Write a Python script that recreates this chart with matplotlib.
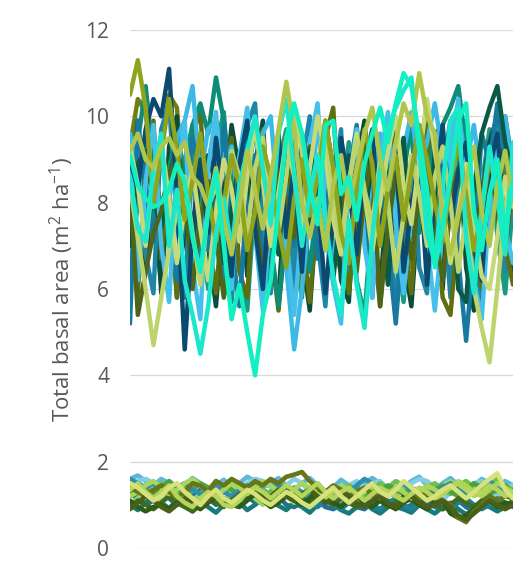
import numpy as np
import matplotlib
matplotlib.use('Agg')
import matplotlib.pyplot as plt

plt.rcParams['font.family'] = ['Open Sans', 'DejaVu Sans']
plt.rcParams['mathtext.fontset'] = 'custom'
plt.rcParams['mathtext.rm'] = 'Open Sans'
plt.rcParams['mathtext.it'] = 'Open Sans'

# ---- data (one value per time step) ----
y_ticks = [0, 2, 4, 6, 8, 10, 12]
y_label = r'Total basal area (m$^{2}$ ha$^{-1}$)'

# upper group of runs
upper_navy = [9.0, 8.3, 9.7, 10.4, 10.0, 11.1, 8.2, 4.6, 7.4, 9.0, 7.3, 9.5, 8.1, 6.3, 8.9, 9.9, 7.4, 6.0, 8.5, 9.6,
              7.2, 8.9, 6.4, 9.2, 8.1, 5.9, 7.6, 9.5, 8.4, 6.8, 8.9, 9.7, 7.1, 8.3, 9.3, 6.4, 7.9, 9.0, 6.1, 8.2,
              9.8, 7.6, 8.7, 9.4, 7.0, 6.2, 8.8, 9.6, 7.4, 8.9]
upper_tealblue = [5.2, 9.9, 8.4, 7.1, 9.3, 8.0, 6.2, 7.7, 9.5, 8.6, 6.9, 8.1, 9.8, 7.0, 5.6, 8.2, 9.1, 6.6, 7.9, 9.4,
                  8.3, 7.0, 9.6, 8.5, 6.7, 7.8, 9.0, 7.4, 8.6, 9.8, 7.6, 6.5, 8.3, 7.0, 5.2, 7.4, 8.6, 9.8, 7.9, 6.6,
                  8.8, 9.9, 6.7, 4.8, 6.9, 9.6, 8.9, 10.3, 9.0, 8.1]
upper_skyblue = [9.6, 8.8, 7.4, 8.9, 9.2, 8.0, 9.5, 9.9, 10.7, 8.6, 9.7, 9.9, 8.7, 9.3, 7.8, 9.0, 8.2, 9.6, 10.0, 7.9,
                 6.5, 4.6, 6.0, 7.8, 9.9, 8.4, 6.6, 7.9, 8.8, 9.7, 7.3, 8.6, 9.6, 8.1, 7.0, 9.2, 10.1, 8.7, 9.4, 10.3,
                 9.1, 7.6, 10.1, 8.9, 9.8, 8.4, 7.2, 9.3, 10.0, 8.6]
upper_aqua = [9.1, 8.4, 8.1, 7.9, 8.0, 8.3, 8.9, 8.5, 7.2, 6.4, 7.8, 8.7, 7.0, 5.3, 6.1, 5.0, 4.0, 5.4, 6.2, 7.9,
              9.5, 10.3, 9.6, 8.4, 7.5, 9.8, 9.9, 8.2, 8.6, 7.6, 8.9, 9.6, 10.2, 9.4, 10.3, 11.0, 10.7, 9.5, 8.3, 6.5,
              7.4, 8.6, 9.9, 10.3, 7.8, 6.9, 8.2, 9.0, 7.3, 8.5]
upper_aqua2 = [8.6, 7.4, 7.1, 8.8, 9.6, 7.0, 8.3, 6.2, 5.4, 4.5, 5.6, 7.3, 8.1, 6.9, 8.4, 9.2, 10.0, 8.8, 7.5, 9.6,
               10.4, 8.7, 7.0, 8.2, 9.1, 7.6, 6.3, 5.4, 7.6, 6.1, 5.1, 7.2, 8.8, 9.7, 10.2, 10.6, 10.9, 9.2, 7.3, 6.6,
               8.4, 9.9, 10.2, 7.2, 5.9, 7.8, 9.3, 8.1, 6.8, 9.4]
upper_darkgreen = [7.0, 8.9, 9.2, 8.1, 7.4, 8.6, 9.3, 8.2, 7.0, 8.7, 9.1, 8.4, 6.6, 7.8, 9.0, 8.8, 7.2, 9.4, 8.3, 6.8,
                   8.9, 9.8, 9.4, 7.3, 8.5, 7.7, 6.2, 8.0, 9.1, 8.4, 7.6, 9.0, 7.9, 6.1, 8.4, 9.5, 7.2, 8.8, 6.5, 9.2,
                   7.7, 8.6, 6.0, 5.7, 8.3, 9.6, 10.2, 10.7, 9.4, 8.6]
upper_tealgreen = [8.2, 9.4, 10.7, 9.0, 7.8, 8.8, 9.6, 8.4, 9.8, 10.3, 9.6, 10.9, 9.9, 8.3, 7.2, 8.6, 9.7, 9.0, 7.1, 5.6,
                   7.3, 8.6, 7.9, 6.4, 8.2, 9.3, 8.0, 7.0, 8.8, 9.5, 8.6, 6.9, 8.1, 9.2, 7.4, 8.7, 9.8, 7.3, 8.5, 9.6,
                   9.8, 10.2, 10.7, 9.3, 7.7, 6.4, 8.0, 9.1, 10.0, 8.8]
upper_olive = [9.3, 10.4, 10.1, 8.6, 9.2, 10.5, 10.2, 8.0, 6.9, 8.2, 7.7, 9.0, 8.1, 7.0, 8.6, 9.5, 7.9, 6.0, 7.4, 8.8,
               9.6, 7.6, 5.9, 8.0, 9.0, 8.2, 7.0, 6.4, 8.3, 9.2, 8.7, 6.1, 7.5, 8.9, 9.4, 8.0, 6.5, 7.8, 9.1, 8.4,
               6.2, 7.9, 9.3, 8.1, 6.6, 7.5, 9.0, 10.1, 8.6, 7.8]
upper_darkolive = [8.5, 5.4, 6.4, 7.3, 7.8, 8.6, 9.2, 8.3, 6.0, 7.6, 8.5, 7.2, 5.8, 7.0, 8.1, 9.0, 7.8, 6.3, 7.7, 8.9,
                   8.0, 7.2, 8.6, 9.3, 8.1, 6.9, 7.9, 8.7, 7.0, 6.4, 8.2, 9.0, 5.6, 7.4, 8.7, 7.9, 6.7, 8.2, 9.0, 7.3,
                   6.2, 7.9, 8.8, 7.6, 6.8, 8.3, 9.2, 7.7, 6.9, 8.5]
upper_lightgreen = [8.4, 7.2, 6.0, 4.7, 5.8, 6.9, 7.8, 8.6, 7.3, 6.1, 7.9, 8.4, 7.5, 9.2, 8.6, 7.2, 8.8, 9.5, 8.0, 7.3,
                    8.6, 10.1, 9.2, 7.8, 8.9, 9.9, 8.1, 7.0, 8.5, 9.4, 8.3, 7.5, 9.0, 8.0, 6.4, 7.7, 9.1, 8.2, 7.0, 8.6,
                    9.3, 8.0, 6.4, 7.7, 6.0, 5.1, 4.3, 6.0, 7.9, 8.8]
upper_yellowgreen = [9.2, 9.6, 9.0, 8.8, 9.3, 9.5, 9.1, 9.4, 8.6, 8.4, 7.9, 8.8, 7.6, 6.8, 7.9, 9.2, 8.3, 7.4, 8.6, 9.7,
                     10.8, 9.7, 8.0, 7.2, 8.1, 6.9, 8.4, 9.1, 7.9, 8.8, 9.6, 10.2, 9.0, 8.3, 9.4, 10.3, 9.8, 11.0, 10.0, 9.6,
                     7.6, 6.8, 7.7, 8.5, 9.3, 7.8, 7.0, 8.4, 9.2, 8.0]
upper_oliveyellow = [10.5, 11.3, 10.2, 8.0, 9.1, 10.4, 9.2, 7.6, 8.5, 9.6, 8.2, 7.1, 8.0, 9.1, 8.4, 6.9, 7.8, 9.3, 8.6, 7.4,
                     6.5, 8.1, 9.0, 7.7, 8.6, 9.9, 8.8, 7.3, 6.6, 8.4, 9.7, 8.9, 7.0, 8.3, 9.1, 7.6, 8.7, 9.8, 9.0, 8.0,
                     7.1, 8.5, 9.4, 8.2, 6.9, 7.8, 9.0, 8.3, 7.2, 8.6]
upper_darkteal = [7.6, 9.6, 6.8, 5.9, 9.7, 10.3, 7.6, 5.8, 9.0, 6.6, 8.9, 9.9, 6.2, 5.7, 8.0, 9.8, 10.3, 7.4, 5.9, 9.5,
                  8.0, 6.0, 8.9, 10.0, 7.1, 5.6, 8.4, 9.7, 6.3, 9.2, 8.3, 5.8, 9.5, 7.6, 5.5, 8.8, 9.9, 6.5, 5.9, 9.6,
                  8.1, 5.8, 8.7, 9.9, 7.2, 5.6, 8.6, 9.8, 6.4, 8.8]
upper_midteal = [6.4, 8.0, 9.5, 7.7, 6.1, 8.3, 5.8, 9.0, 9.8, 7.5, 6.0, 9.3, 10.1, 7.6, 6.5, 5.5, 8.2, 9.1, 6.7, 8.9,
                 9.7, 6.9, 5.8, 9.2, 10.0, 7.7, 6.4, 8.1, 9.4, 6.2, 5.4, 7.7, 8.8, 9.6, 7.4, 5.7, 7.9, 9.0, 10.3, 8.1,
                 6.8, 8.9, 10.0, 7.5, 6.1, 8.4, 9.7, 7.2, 5.9, 8.0]
upper_navy2 = [9.3, 6.2, 8.5, 9.8, 7.0, 5.7, 8.7, 9.9, 6.5, 5.3, 8.8, 10.1, 7.4, 6.0, 9.1, 10.2, 7.3, 5.5, 7.7, 9.6,
               7.2, 5.4, 7.5, 9.4, 10.3, 7.6, 6.1, 5.2, 8.4, 9.7, 7.0, 5.8, 9.0, 10.1, 7.5, 5.9, 7.6, 9.3, 7.1, 5.5,
               7.4, 9.2, 10.4, 7.7, 6.2, 5.3, 8.0, 9.5, 7.4, 6.6]
upper_deepgreen = [8.1, 9.9, 6.4, 8.8, 5.9, 9.3, 10.0, 7.2, 6.1, 9.2, 7.0, 5.6, 7.9, 9.8, 8.7, 6.3, 8.9, 9.9, 6.6, 5.8,
                   8.5, 9.7, 6.8, 5.5, 8.0, 9.9, 8.8, 6.2, 5.7, 8.9, 9.9, 7.4, 5.9, 8.6, 9.8, 6.7, 5.6, 8.1, 9.7, 7.0,
                   6.0, 8.8, 9.8, 6.5, 5.5, 8.2, 9.4, 10.0, 7.1, 6.3]
upper_olive2 = [7.8, 5.9, 8.9, 9.9, 6.7, 8.4, 5.8, 7.9, 9.6, 10.1, 7.3, 5.9, 8.0, 9.5, 6.4, 5.8, 8.8, 9.7, 7.0, 5.5,
                7.6, 9.1, 7.3, 5.7, 7.9, 9.5, 10.2, 7.1, 5.9, 7.8, 9.3, 7.4, 5.6, 7.9, 9.6, 7.2, 5.9, 8.6, 10.0, 7.8,
                5.8, 5.4, 7.5, 9.1, 7.3, 6.0, 8.7, 9.6, 7.0, 6.1]
upper_paleyg = [9.3, 8.4, 7.0, 8.7, 9.4, 8.1, 6.6, 7.9, 8.8, 7.4, 6.2, 7.8, 9.0, 8.3, 7.1, 8.6, 9.8, 8.5, 7.0, 8.2,
                9.5, 8.6, 7.3, 8.8, 10.0, 9.1, 7.6, 6.8, 8.4, 9.6, 8.2, 6.9, 8.0, 9.2, 10.0, 8.4, 7.5, 9.0, 10.4, 9.2,
                8.0, 6.6, 7.8, 8.9, 7.4, 6.3, 6.0, 7.2, 8.6, 7.9]

# lower group of runs
lower_lightblue = [1.45, 1.55, 1.60, 1.50, 1.40, 1.30, 1.40, 1.50, 1.35, 1.20, 1.30, 1.45, 1.50, 1.40, 1.25, 1.50, 1.60,
                   1.55, 1.40, 1.30, 1.45, 1.60, 1.50, 1.30, 1.10, 1.00, 1.15, 1.30, 1.45, 1.55, 1.40, 1.50, 1.55,
                   1.35, 1.20, 1.45, 1.50, 1.60, 1.55, 1.40, 1.10, 1.30, 1.45, 1.40, 1.50, 1.55, 1.35, 1.20, 1.40, 1.45]
lower_steelblue = [1.30, 1.20, 1.00, 1.10, 1.25, 1.15, 1.00, 1.05, 1.20, 1.30, 1.15, 1.00, 1.10, 1.25, 1.35, 1.20, 1.05,
                   1.15, 1.30, 1.20, 1.00, 0.95, 1.05, 1.20, 1.10, 0.95, 0.90, 1.00, 1.10, 0.95, 0.90, 1.05, 1.20,
                   1.10, 0.95, 0.90, 1.00, 1.15, 1.05, 0.95, 0.90, 1.00, 1.10, 0.95, 0.85, 1.00, 1.15, 1.05, 0.95, 1.05]
lower_green = [1.20, 1.35, 1.45, 1.30, 1.50, 1.35, 1.20, 1.45, 1.30, 1.15, 1.35, 1.55, 1.40, 1.30, 1.20, 1.35, 1.50,
               1.35, 1.25, 1.50, 1.40, 1.30, 1.15, 1.35, 1.50, 1.30, 1.40, 1.25, 1.45, 1.35, 1.20, 1.30, 1.50,
               1.40, 1.55, 1.45, 1.30, 1.20, 1.40, 1.50, 1.35, 1.25, 1.45, 1.55, 1.40, 1.30, 1.45, 1.60, 1.45, 1.35]
lower_lightgreen = [1.00, 1.15, 1.30, 1.20, 1.05, 1.25, 1.40, 1.30, 1.10, 1.25, 1.40, 1.20, 1.05, 1.30, 1.45, 1.30, 1.15,
                    1.00, 1.20, 1.35, 1.20, 1.05, 1.25, 1.40, 1.25, 1.10, 1.30, 1.45, 1.30, 1.15, 1.35, 1.50, 1.35,
                    1.20, 1.30, 1.50, 1.40, 1.25, 1.35, 1.30, 1.45, 1.55, 1.40, 1.25, 1.35, 1.50, 1.40, 1.30, 1.45, 1.35]
lower_darkgreen = [1.10, 0.95, 0.85, 0.95, 1.00, 0.90, 1.05, 1.15, 1.00, 0.90, 1.05, 1.20, 1.10, 1.00, 0.95, 1.10, 1.25,
                   1.10, 0.95, 1.05, 1.20, 1.10, 1.00, 1.15, 1.30, 1.15, 1.05, 0.95, 1.10, 1.20, 1.05, 0.95, 1.10,
                   1.00, 0.90, 1.05, 1.15, 1.00, 0.90, 1.05, 1.10, 0.80, 0.70, 0.75, 0.90, 1.00, 1.10, 0.95, 1.05, 1.00]
lower_olive = [1.40, 1.30, 1.20, 1.35, 1.45, 1.30, 1.15, 1.30, 1.50, 1.45, 1.30, 1.55, 1.45, 1.60, 1.50, 1.40, 1.55,
               1.45, 1.60, 1.50, 1.65, 1.70, 1.76, 1.55, 1.40, 1.30, 1.45, 1.35, 1.20, 1.30, 1.40, 1.25, 1.15,
               1.30, 1.20, 1.10, 1.25, 1.15, 1.30, 1.20, 1.10, 1.00, 0.70, 0.60, 0.85, 1.00, 1.20, 1.10, 1.20, 1.15]
lower_paleyellow = [1.50, 1.40, 1.25, 1.10, 1.20, 1.40, 1.50, 1.30, 1.15, 1.00, 1.20, 1.35, 1.15, 1.05, 1.20, 1.35, 1.25,
                    1.10, 1.00, 1.15, 1.30, 1.20, 1.05, 0.95, 1.10, 1.25, 1.40, 1.20, 1.05, 1.20, 1.35, 1.50, 1.30,
                    1.20, 1.35, 1.55, 1.40, 1.25, 1.10, 1.20, 1.35, 1.45, 1.30, 1.15, 1.30, 1.45, 1.60, 1.73, 1.35, 1.15]
lower_teal = [1.25, 1.15, 1.30, 1.20, 1.10, 1.25, 1.15, 1.05, 1.20, 1.35, 1.25, 1.15, 1.30, 1.20, 1.10, 1.20, 1.30,
              1.15, 1.05, 1.20, 1.30, 1.25, 1.10, 1.00, 0.95, 1.10, 1.00, 0.90, 1.05, 1.20, 1.10, 1.00, 0.90,
              1.05, 1.15, 1.00, 0.90, 1.05, 1.20, 1.10, 0.95, 0.90, 1.05, 1.15, 1.00, 0.90, 1.00, 1.15, 1.05, 0.95]
lower_yellowgreen = [1.35, 1.50, 1.30, 1.15, 1.30, 1.45, 1.20, 1.05, 0.95, 1.15, 1.30, 1.20, 1.00, 0.95, 1.10, 1.30, 1.40,
                     1.30, 1.15, 1.30, 1.45, 1.35, 1.20, 1.35, 1.50, 1.30, 1.15, 1.30, 1.40, 1.25, 1.10, 1.25, 1.40,
                     1.30, 1.20, 1.10, 1.25, 1.40, 1.30, 1.15, 1.25, 1.40, 1.50, 1.35, 1.20, 1.30, 1.45, 1.35, 1.20, 1.30]
lower_darkolive = [0.90, 1.05, 1.20, 1.10, 0.95, 0.85, 1.00, 1.15, 1.05, 0.95, 1.10, 1.25, 1.15, 1.05, 1.20, 1.35, 1.25,
                   1.10, 1.20, 1.35, 1.20, 1.10, 1.25, 1.35, 1.20, 1.05, 1.15, 1.30, 1.20, 1.05, 0.95, 1.10, 1.20,
                   1.05, 0.95, 1.10, 1.20, 1.05, 0.95, 1.00, 1.10, 0.95, 0.75, 0.65, 0.80, 0.95, 1.10, 1.00, 0.90, 1.00]
lower_midgreen = [1.30, 1.45, 1.35, 1.20, 1.40, 1.55, 1.40, 1.25, 1.35, 1.50, 1.40, 1.30, 1.45, 1.35, 1.20, 1.30, 1.45,
                  1.30, 1.15, 1.25, 1.40, 1.35, 1.20, 1.30, 1.45, 1.30, 1.20, 1.35, 1.25, 1.40, 1.30, 1.20, 1.30,
                  1.45, 1.35, 1.25, 1.40, 1.30, 1.20, 1.35, 1.45, 1.30, 1.20, 1.35, 1.50, 1.40, 1.25, 1.35, 1.45, 1.30]
lower_blueteal = [1.60, 1.50, 1.40, 1.50, 1.35, 1.25, 1.40, 1.50, 1.35, 1.25, 1.35, 1.45, 1.30, 1.20, 1.35, 1.45, 1.40,
                  1.50, 1.55, 1.45, 1.30, 1.40, 1.30, 1.15, 1.25, 1.10, 1.00, 1.15, 1.30, 1.45, 1.60, 1.50, 1.35,
                  1.25, 1.40, 1.50, 1.35, 1.20, 1.30, 1.25, 1.40, 1.50, 1.35, 1.20, 1.30, 1.45, 1.55, 1.40, 1.25, 1.35]
lower_darkgreen2 = [0.95, 1.10, 1.00, 0.90, 1.05, 1.20, 1.05, 0.95, 0.85, 1.00, 1.15, 1.05, 0.95, 1.10, 1.25, 1.15, 1.30,
                    1.20, 1.10, 1.25, 1.40, 1.30, 1.15, 1.05, 1.20, 1.10, 1.00, 1.15, 1.05, 0.95, 1.10, 1.25, 1.10,
                    0.95, 1.05, 1.20, 1.10, 1.00, 1.15, 1.05, 0.90, 1.00, 1.15, 1.05, 0.95, 1.10, 1.20, 1.05, 0.95, 1.10]
lower_skyblue = [1.60, 1.68, 1.55, 1.45, 1.60, 1.50, 1.35, 1.45, 1.62, 1.50, 1.35, 1.45, 1.58, 1.40, 1.50, 1.65, 1.55,
                 1.40, 1.50, 1.62, 1.45, 1.35, 1.50, 1.62, 1.45, 1.30, 1.40, 1.58, 1.45, 1.35, 1.50, 1.62, 1.50,
                 1.35, 1.25, 1.40, 1.55, 1.65, 1.45, 1.35, 1.50, 1.62, 1.45, 1.35, 1.45, 1.60, 1.50, 1.40, 1.55, 1.45]
lower_lime = [1.20, 1.30, 1.45, 1.55, 1.40, 1.25, 1.35, 1.50, 1.60, 1.45, 1.30, 1.20, 1.35, 1.50, 1.40, 1.25, 1.40,
              1.55, 1.45, 1.30, 1.20, 1.35, 1.50, 1.40, 1.25, 1.15, 1.30, 1.45, 1.35, 1.20, 1.30, 1.45, 1.35,
              1.25, 1.40, 1.30, 1.15, 1.30, 1.45, 1.35, 1.25, 1.40, 1.55, 1.45, 1.30, 1.20, 1.35, 1.50, 1.40, 1.30]
lower_teal2 = [1.00, 0.88, 1.05, 1.20, 1.05, 0.92, 1.10, 1.00, 0.85, 1.05, 0.95, 0.82, 1.00, 1.15, 1.05, 0.88, 1.00,
               1.15, 1.10, 0.98, 0.88, 1.05, 0.95, 0.82, 1.00, 1.10, 1.00, 0.88, 0.80, 0.95, 1.05, 0.90, 0.80,
               0.95, 1.05, 0.90, 0.82, 1.00, 0.90, 0.80, 0.95, 1.05, 0.90, 0.78, 0.90, 1.05, 0.95, 0.85, 0.95, 1.05]

upper_runs = [
    (upper_midteal, '#1A9983'),
    (upper_olive, '#6E7F10'),
    (upper_deepgreen, '#0B4D3A'),
    (upper_darkteal, '#1F86A8'),
    (upper_olive2, '#5F6E0E'),
    (upper_tealgreen, '#0F8C78'),
    (upper_skyblue, '#3CB9E5'),
    (upper_tealblue, '#1879A0'),
    (upper_darkgreen, '#0A5946'),
    (upper_navy2, '#45C0EA'),
    (upper_darkolive, '#4E6418'),
    (upper_navy, '#0B4A6E'),
    (upper_paleyg, '#C8DA78'),
    (upper_lightgreen, '#BCD46B'),
    (upper_oliveyellow, '#8FA31C'),
    (upper_aqua2, '#1BE8CB'),
    (upper_yellowgreen, '#AFC54C'),
    (upper_aqua, '#12EFC0'),
]
lower_runs = [
    (lower_skyblue, '#5DB7D6'),
    (lower_lightblue, '#84CEE3'),
    (lower_steelblue, '#22709A'),
    (lower_teal2, '#197A7A'),
    (lower_green, '#6CC04A'),
    (lower_teal, '#1C8296'),
    (lower_lightgreen, '#98D56C'),
    (lower_midgreen, '#4E9F3D'),
    (lower_blueteal, '#2F8FB0'),
    (lower_darkgreen2, '#3F6B1F'),
    (lower_darkgreen, '#2E5C17'),
    (lower_lime, '#A7D65A'),
    (lower_olive, '#66761A'),
    (lower_darkolive, '#4B5F1A'),
    (lower_yellowgreen, '#B5D45A'),
    (lower_paleyellow, '#D8E27B'),
]


def draw_runs(ax, runs, lw):
    """Plot every run of one group as a thick line"""
    for vals, col in runs:
        x = np.arange(len(vals))
        ax.plot(x, vals, color=col, lw=lw, solid_joinstyle='round',
                solid_capstyle='round', zorder=3)


fig = plt.figure(figsize=(5.13, 5.72), dpi=100, facecolor='w')
ax = fig.add_axes([130 / 513, 24 / 572, 383 / 513, 518 / 572])

draw_runs(ax, lower_runs, 3.3)
draw_runs(ax, upper_runs, 3.2)

n = len(upper_navy)
ax.set_xlim(0, n - 1)
ax.set_ylim(0, 12)
ax.set_yticks(y_ticks)
ax.set_xticks([])
ax.yaxis.grid(True, color='#D9D9D9', lw=0.9, zorder=0)
ax.set_axisbelow(True)
for s in ax.spines.values():
    s.set_visible(False)
ax.tick_params(axis='y', length=0, pad=15, labelsize=15, labelcolor='#595959')

fig.text(62 / 513, 1 - 290 / 572, y_label, rotation=90, ha='center', va='center',
         fontsize=16, color='#595959')

fig.savefig('out.png', dpi=100, facecolor='w')
